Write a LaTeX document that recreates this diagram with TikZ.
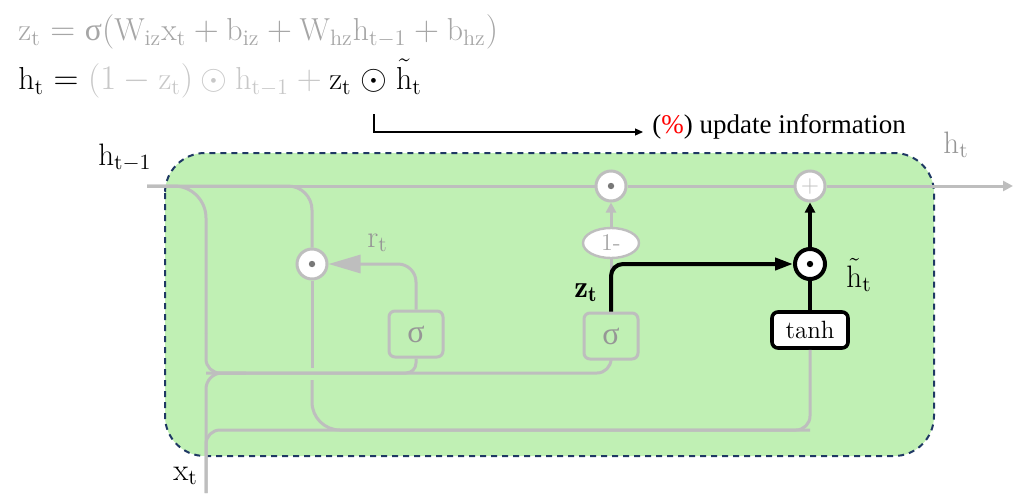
\documentclass[tikz,border=0pt]{standalone}
\usepackage{amsmath,amssymb}
\usepackage{fontspec}
\newfontfamily\notefont{Liberation Serif}
\usetikzlibrary{arrows.meta}
\usetikzlibrary{shapes.geometric}
\definecolor{linegray}{RGB}{190,190,190}
\definecolor{dotgray}{RGB}{120,120,120}
\definecolor{labgray}{RGB}{150,150,150}
\definecolor{eqgray}{RGB}{166,166,166}
\definecolor{eqlight}{RGB}{200,200,200}
\definecolor{cellgreen}{RGB}{192,240,180}
\definecolor{cellnavy}{RGB}{31,56,100}
\newcommand{\sg}{\mbox{\notefont σ}}
\tikzset{cellbox/.style = {draw=cellnavy, fill=cellgreen, line width=1pt,
                           dash pattern=on 3pt off 2.5pt, rounded corners=20pt}}
\tikzset{gline/.style = {draw=linegray, line width=1.5pt}}
\tikzset{bline/.style = {draw=black, line width=2pt}}
\tikzset{note/.style = {draw=black, line width=0.6pt,
                        -{Triangle[length=4pt,width=3.5pt]}}}
\tikzset{op/.style = {circle, draw=linegray, fill=white, line width=1.5pt,
                      minimum size=15pt, inner sep=0pt}}
\tikzset{dotin/.style = {path picture={\fill[#1]
                         (path picture bounding box.center) circle (1.6pt);}}}
\tikzset{gate/.style = {rectangle, rounded corners=3pt, draw=linegray,
                        line width=1.5pt, minimum width=27pt, minimum height=23pt,
                        text=labgray, font=\fontsize{16}{18}\notefont}}
\tikzset{lbl/.style = {inner sep=0pt, anchor=base west,
                       font=\fontsize{15.5}{18}\selectfont}}
\tikzset{eq/.style = {lbl, font=\fontsize{15.9}{18}\selectfont}}
\begin{document}
\begin{tikzpicture}[x=0.5pt, y=-0.5pt]
  \useasboundingbox (0,0) rectangle (1021,499);
  \draw[cellbox] (165,153) rectangle (934,456);
  \node[eq, text=eqgray] (eqz) at (18,40)
    {$\mathrm{z_t = \sg(W_{iz}x_t + b_{iz} + W_{hz}h_{t-1} + b_{hz})}$};
  \node[eq] (eqh) at (18,89)
    {$\mathrm{h_t} = \color{eqlight}(1-\mathrm{z_t})\odot\mathrm{h_{t-1}}+
      \color{black}\mathrm{z_t}$};
  \node[eq] (eqodot) at ([xshift=4pt]eqh.base east) {$\odot$};
  \node[eq] (eqhc) at ([xshift=4pt]eqodot.base east) {$\tilde{\mathrm{h}}_\mathrm{t}$};
  \node[anchor=base west, inner sep=0pt, font={\fontsize{13.5}{16}\notefont}]
    (upd) at (652,133) {(\textcolor{red}{\%}) update information};
  \draw[note] ([yshift=-11pt]eqodot.south) |- ([xshift=-4.5pt,yshift=0.5pt]upd.base west);

  \node[op, dotin=dotgray] (zmul) at (611,186) {};
  \node[op, text=linegray, font=\fontsize{12}{12}\selectfont] (add) at (810,186) {$+$};
  \node[op, dotin=dotgray] (rmul) at (312,264) {};
  \node[op, draw=black, line width=2pt, dotin=black] (hmul) at (810,264) {};
  \node[ellipse, draw=linegray, fill=white, line width=1.2pt, minimum width=28pt,
        minimum height=15pt, inner sep=0pt, text=eqgray,
        font=\fontsize{12}{12}\selectfont] (one) at (611,243) {1-};
  \node[gate] (rsig) at (416,334) {σ};
  \node[gate] (zsig) at (611,336) {σ};
  \node[gate, draw=black, fill=white, text=black, line width=1.8pt,
        minimum width=38pt, minimum height=18pt,
        font=\fontsize{12.5}{14}\selectfont] (tanh) at (810,330) {tanh};

  \coordinate (hin) at (147,186);
  \coordinate (hout) at (1013,186);
  \coordinate (xin) at (206,493);
  \coordinate (hdown) at (206,373);
  \coordinate (xlow) at (206,430);
  \coordinate (gapt) at (312,368);
  \coordinate (gapb) at (312,380);

  \draw[gline] (hin) -- (zmul) -- (add);
  \draw[gline, -{Triangle[length=5pt,width=5pt]}] (add) -- (hout);
  \draw[gline, rounded corners=16pt] (hin) -| ([yshift=20pt]hdown);
  \draw[gline, rounded corners=7pt] ([yshift=20pt]hdown) -- (hdown) -| (zsig.south);
  \draw[gline, rounded corners=8pt] (xin) |- ([xshift=20pt]hdown);
  \draw[gline, rounded corners=7pt] (xin) -- (xlow) -| (tanh.south);
  \draw[gline, rounded corners=12pt] (hin) -| (rmul);
  \draw[gline] (rmul) -- (gapt);
  \draw[gline, rounded corners=14pt] (gapb) |- (xlow -| tanh.south);
  \draw[gline, rounded corners=5pt] (rsig.south) |- (hdown);
  \draw[gline, rounded corners=9pt, -{Triangle[length=16pt,width=9pt]}]
    (rsig.north) |- (rmul);
  \draw[gline] (zsig.north) -- (one);
  \draw[gline, -{Triangle[length=5pt,width=5pt]}] (one) -- (zmul);
  \draw[bline, rounded corners=6pt, -{Triangle[length=9pt,width=6pt]}]
    (zsig.north) |- (hmul);
  \draw[bline] (tanh) -- (hmul);
  \draw[bline, -{Triangle[length=5pt,width=5pt]}] (hmul) -- (add);

  \node[lbl] (hprev) at (98,165) {$\mathrm{h_{t-1}}$};
  \node[lbl, text=labgray] (hnext) at (943,153) {$\mathrm{h_t}$};
  \node[lbl] (xlab) at (173,480) {$\mathrm{x_t}$};
  \node[lbl, text=labgray] (rlab) at (367,247) {$\mathrm{r_t}$};
  \node[lbl] (zlab) at (574,297) {$\mathbf{z_t}$};
  \node[lbl] (hclab) at (846,287) {$\tilde{\mathrm{h}}_\mathrm{t}$};
\end{tikzpicture}
\end{document}
